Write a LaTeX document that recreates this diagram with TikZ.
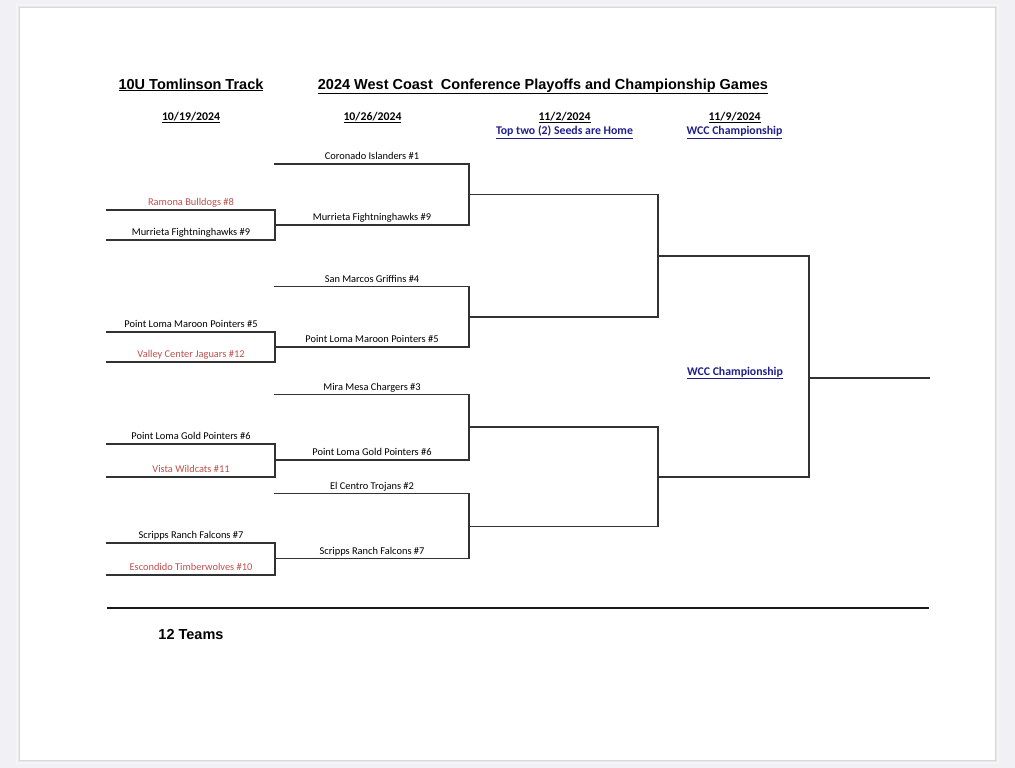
\documentclass[tikz,border=0pt]{standalone}
\usepackage{fontspec}
\setmainfont{Carlito}
\newfontfamily\arialfont{Liberation Sans}
\usepackage{xcolor}
\usepackage{tikz}

\definecolor{pagebg}{RGB}{241,241,245}
\definecolor{elimred}{HTML}{C0504D}
\definecolor{linkblue}{RGB}{32,32,140}
\definecolor{bracketgray}{RGB}{50,50,50}

\begin{document}
\begin{tikzpicture}[
  x=1pt,y=-1pt,
  bline/.style={draw=bracketgray,line width=1.6pt,line cap=rect},
  team/.style={above,inner sep=1pt,text height=7pt,text depth=2.5pt,font=\fontsize{10.4}{12}\selectfont},
  elim/.style={team,text=elimred},
  datehd/.style={anchor=base,inner sep=0pt,font=\bfseries\fontsize{11.8}{14}\selectfont},
  linkhd/.style={datehd,text=linkblue},
  titlehd/.style={anchor=base,inner sep=0pt,font=\arialfont\bfseries\fontsize{14.5}{17}\selectfont}
]
% page
\fill[pagebg] (0,0) rectangle (1015,768);
\fill[black!4] (16,4) rectangle (999,764);
\fill[black!9] (18,6) rectangle (997,762);
\fill[black!15] (19,7) rectangle (996,761);
\fill[white] (20,8) rectangle (995,760);
\useasboundingbox (0,0) rectangle (1015,768);

% headings
\node[titlehd] (track) at (191,89) {\underline{10U Tomlinson Track}};
\node[titlehd] (title) at (543,89) {\underline{2024 West Coast\ \ Conference Playoffs and Championship Games}};
\node[datehd] (date1) at (191,120.5) {\underline{10/19/2024}};
\node[datehd] (date2) at (372.5,120.5) {\underline{10/26/2024}};
\node[datehd] (date3) at (564.5,120.5) {\underline{11/2/2024}};
\node[linkhd] (note3) at (564.5,134.5) {\underline{Top two (2) Seeds are Home}};
\node[datehd] (date4) at (734.5,120.5) {\underline{11/9/2024}};
\node[linkhd] (note4) at (734.5,134.5) {\underline{WCC Championship}};

% round 1
\draw[bline] (107,210) -- node[elim] (ramona) {Ramona Bulldogs \#8} (275,210);
\draw[bline] (107,240) -- node[team] (murr1) {Murrieta Fightninghawks \#9} (275,240);
\draw[bline] (275,210) -- (275,240);
\draw[bline] (107,332) -- node[team] (maroon1) {Point Loma Maroon Pointers \#5} (275,332);
\draw[bline] (107,362) -- node[elim] (valley) {Valley Center Jaguars \#12} (275,362);
\draw[bline] (275,332) -- (275,362);
\draw[bline] (107,444) -- node[team] (gold1) {Point Loma Gold Pointers \#6} (275,444);
\draw[bline] (107,477) -- node[elim] (vista) {Vista Wildcats \#11} (275,477);
\draw[bline] (275,444) -- (275,477);
\draw[bline] (107,543) -- node[team] (scripps1) {Scripps Ranch Falcons \#7} (275,543);
\draw[bline] (107,575) -- node[elim] (escon) {Escondido Timberwolves \#10} (275,575);
\draw[bline] (275,543) -- (275,575);

% round 2
\draw[bline] (275,164) -- node[team] (coron) {Coronado Islanders \#1} (469,164);
\draw[bline] (275,225) -- node[team] (murr2) {Murrieta Fightninghawks \#9} (469,225);
\draw[bline] (469,164) -- (469,225);
\draw[bline] (275,286.5) -- node[team] (sanmar) {San Marcos Griffins \#4} (469,286.5);
\draw[bline] (275,347) -- node[team] (maroon2) {Point Loma Maroon Pointers \#5} (469,347);
\draw[bline] (469,286.5) -- (469,347);
\draw[bline] (275,394.5) -- node[team] (mira) {Mira Mesa Chargers \#3} (469,394.5);
\draw[bline] (275,460) -- node[team] (gold2) {Point Loma Gold Pointers \#6} (469,460);
\draw[bline] (469,394.5) -- (469,460);
\draw[bline] (275,493.5) -- node[team] (centro) {El Centro Trojans \#2} (469,493.5);
\draw[bline] (275,558.5) -- node[team] (scripps2) {Scripps Ranch Falcons \#7} (469,558.5);
\draw[bline] (469,493.5) -- (469,558.5);

% round 3
\draw[bline] (469,194.5) -- (658,194.5);
\draw[bline] (469,317) -- (658,317);
\draw[bline] (658,194.5) -- (658,317);
\draw[bline] (469,427) -- (658,427);
\draw[bline] (469,526.5) -- (658,526.5);
\draw[bline] (658,427) -- (658,526.5);

% round 4 and final
\draw[bline] (658,256) -- (809,256);
\draw[bline] (658,477) -- (809,477);
\draw[bline] (809,256) -- (809,477);
\draw[bline] (809,378) -- (929,378);
\node[linkhd] (champ) at (735,375) {\underline{WCC Championship}};

% footer
\draw[black!90,line width=2.6pt] (107,608) -- (929,608);
\node[titlehd] (count) at (191,639) {12 Teams};
\end{tikzpicture}
\end{document}
